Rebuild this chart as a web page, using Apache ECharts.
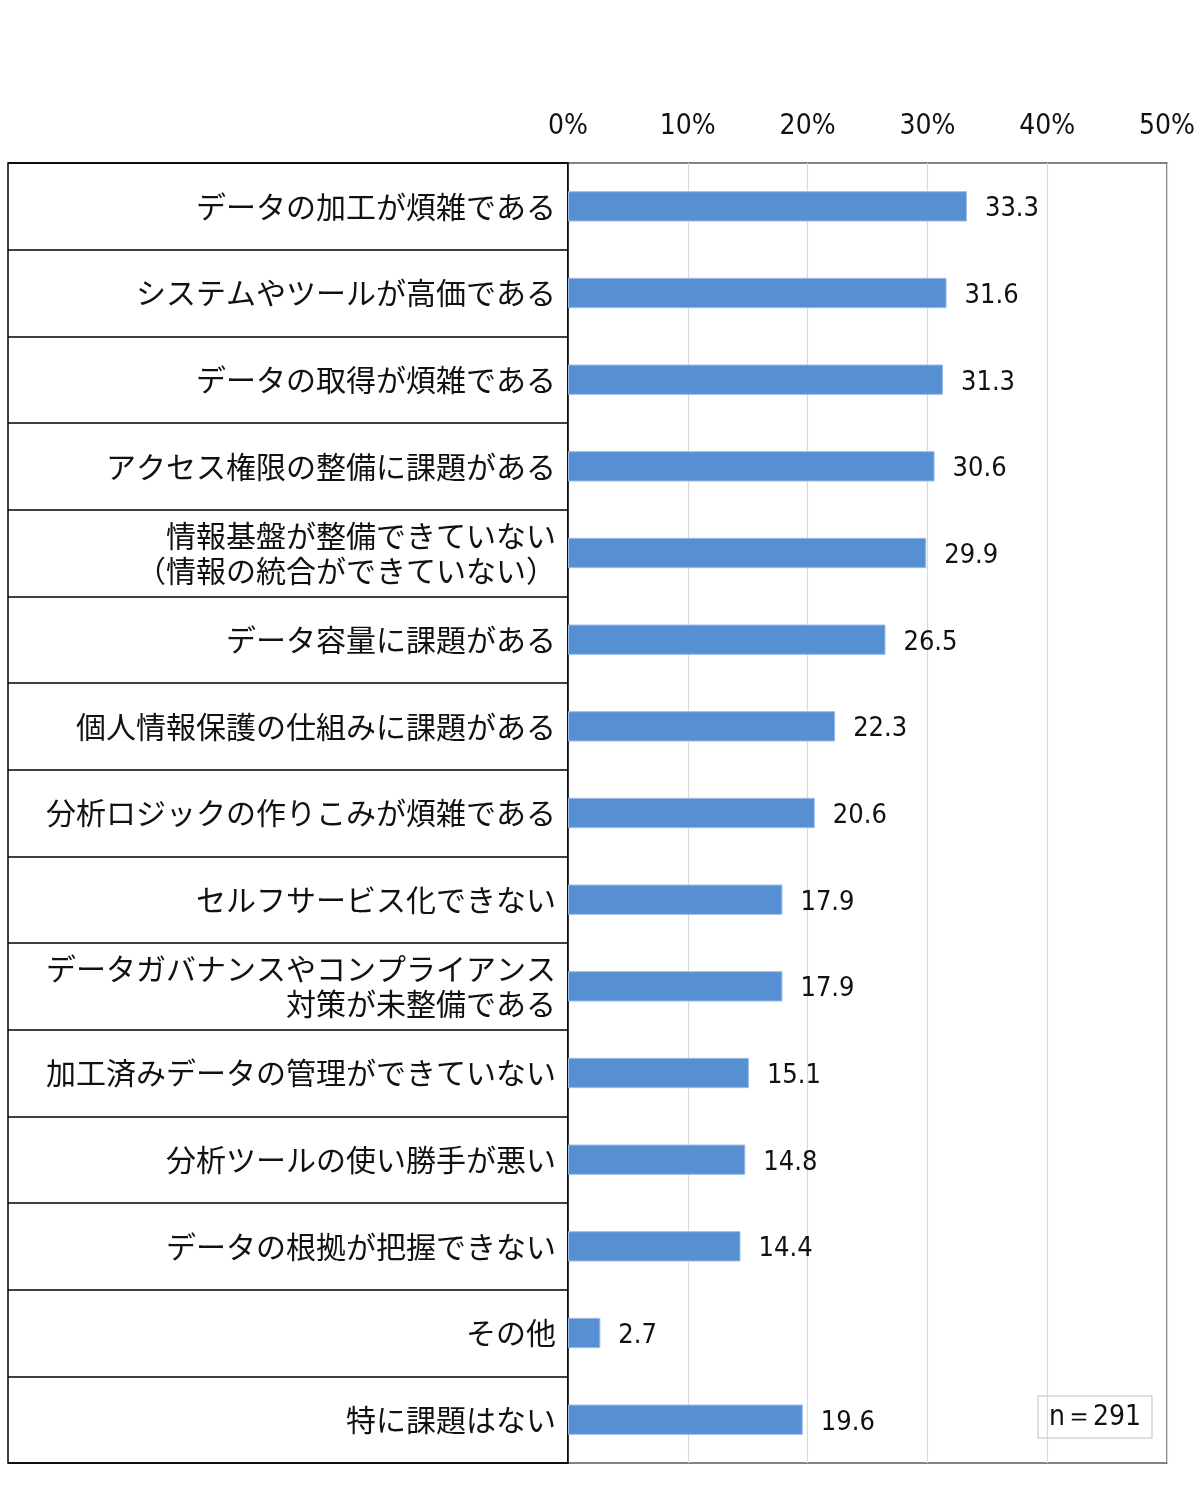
<!DOCTYPE html>
<html>
<head>
<meta charset="utf-8">
<script src="https://cdn.jsdelivr.net/npm/echarts@6/dist/echarts.min.js"></script>
<style>
  html, body { margin: 0; padding: 0; background: #fff; }
  #chart { width: 1200px; height: 1493px; }
</style>
</head>
<body>
<div id="chart"></div>
<script>
// categories, top to bottom
const categories = [
  'データの加工が煩雑である',
  'システムやツールが高価である',
  'データの取得が煩雑である',
  'アクセス権限の整備に課題がある',
  '情報基盤が整備できていない\n（情報の統合ができていない）',
  'データ容量に課題がある',
  '個人情報保護の仕組みに課題がある',
  '分析ロジックの作りこみが煩雑である',
  'セルフサービス化できない',
  'データガバナンスやコンプライアンス\n対策が未整備である',
  '加工済みデータの管理ができていない',
  '分析ツールの使い勝手が悪い',
  'データの根拠が把握できない',
  'その他',
  '特に課題はない'
]
const values = [33.3, 31.6, 31.3, 30.6, 29.9, 26.5, 22.3, 20.6, 17.9, 17.9, 15.1, 14.8, 14.4, 2.7, 19.6]
const sampleNote = 'n＝291'

const jpFont = '"Noto Sans CJK JP", "Noto Sans", sans-serif'
const numFont = '"DejaVu Sans Condensed", "Liberation Sans Narrow", "Roboto", sans-serif'

const chart = echarts.init(document.getElementById('chart'), null, { renderer: 'canvas' })

const option = {
  animation: false,
  backgroundColor: '#fff',
  title: {
    text: sampleNote,
    right: 48,
    bottom: 55,
    padding: [8, 11, 6, 11],
    borderColor: '#d4d4d4',
    borderWidth: 1.5,
    textStyle: { fontFamily: numFont, fontSize: 28, fontWeight: 'normal', color: '#111' }
  },
  grid: [
    // plot area
    { left: 568, right: 33, top: 163, bottom: 30, show: true, borderColor: '#5a5a5a', borderWidth: 1.5, containLabel: false },
    // label table on the left
    { left: 8, width: 560, top: 163, bottom: 30, show: true, borderColor: '#000', borderWidth: 1.5, containLabel: false }
  ],
  xAxis: [
    {
      gridIndex: 0,
      type: 'value',
      position: 'top',
      min: 0,
      max: 50,
      interval: 10,
      axisLine: { show: false },
      axisTick: { show: false },
      splitLine: { show: true, lineStyle: { color: '#d9d9d9', width: 1.2 } },
      axisLabel: {
        formatter: '{value}%',
        margin: 22,
        fontFamily: numFont,
        fontSize: 28,
        color: '#111'
      }
    },
    { gridIndex: 1, type: 'value', show: false }
  ],
  yAxis: [
    {
      gridIndex: 0,
      type: 'category',
      inverse: true,
      data: categories,
      axisLine: { show: true, lineStyle: { color: '#000', width: 1.5 } },
      axisTick: { show: false },
      axisLabel: {
        margin: 12,
        align: 'right',
        fontFamily: jpFont,
        fontSize: 30,
        lineHeight: 35,
        color: '#111'
      }
    },
    {
      gridIndex: 1,
      type: 'category',
      inverse: true,
      data: categories,
      axisLine: { show: false },
      axisTick: { show: false },
      axisLabel: { show: false },
      splitLine: { show: true, lineStyle: { color: '#000', width: 1.5 } }
    }
  ],
  series: [
    {
      type: 'bar',
      xAxisIndex: 0,
      yAxisIndex: 0,
      data: values,
      barCategoryGap: '65%',
      itemStyle: { color: '#5690d3', borderColor: '#9cbce6', borderWidth: 1 },
      label: {
        show: true,
        position: 'right',
        distance: 18,
        offset: [0, 3],
        formatter: p => p.value.toFixed(1),
        fontFamily: numFont,
        fontSize: 27,
        color: '#111'
      }
    }
  ]
}

chart.setOption(option)
</script>
</body>
</html>
